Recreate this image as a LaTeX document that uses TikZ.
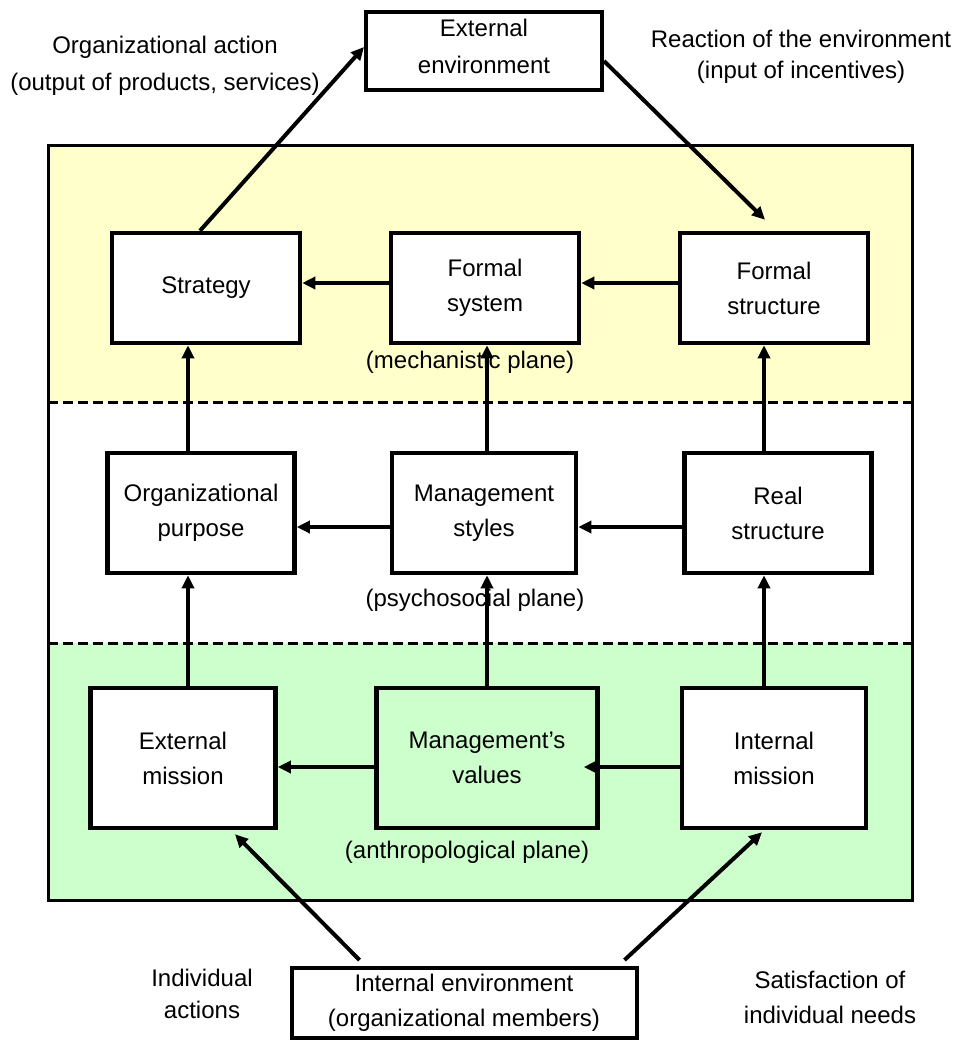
\documentclass[tikz,border=0pt]{standalone}
\usepackage{fontspec}
\setmainfont{Liberation Sans}
\usetikzlibrary{arrows.meta}
\definecolor{mechyellow}{HTML}{FFFFCC}
\definecolor{anthgreen}{HTML}{CCFFCC}
\tikzset{
  box/.style={draw, line width=4.5pt, fill=white, align=center, inner sep=0pt},
  lbl/.style={align=center, inner sep=0pt},
  arr/.style={line width=4pt, -{Triangle[length=13pt,width=12pt]}},
}
\begin{document}
\begin{tikzpicture}[x=1pt, y=-1pt, font=\fontsize{24}{35}\selectfont]
			\useasboundingbox (0,0) rectangle (957,1041);
			% Draw the three planes
			\fill[mechyellow] (48,145) rectangle (912,402);
			\fill[white] (48,402) rectangle (912,643);
			\fill[anthgreen] (48,643) rectangle (912,900);
			\draw[line width=3pt, dash pattern=on 10pt off 5pt] (48,402) -- (912,402);
			\draw[line width=3pt, dash pattern=on 10pt off 5pt] (48,643) -- (912,643);
			\draw[line width=3pt] (48,145) rectangle (912,900);
			\node[lbl] (mplane) at (470,362) {(mechanistic plane)};
			\node[lbl] (pplane) at (475,600) {(psychosocial plane)};
			\node[lbl] (aplane) at (467,852) {(anthropological plane)};
			% Boxes
			\node[box, line width=4pt, minimum width=236pt, minimum height=78pt] (extenv) at (484,51) {};
			\node[lbl, font=\fontsize{24}{37}\selectfont] (extenvtxt) at ([yshift=5pt]extenv.center) {External\\environment};
			\node[box, minimum width=188pt, minimum height=110pt] (strat) at (206,288) {Strategy};
			\node[box, minimum width=188pt, minimum height=110pt] (fsys) at (485,288) {Formal\\system};
			\node[box, minimum width=188pt, minimum height=110pt] (fstr) at (774,288) {Formal\\structure};
			\node[box, minimum width=187pt, minimum height=120pt] (purp) at (201,513) {Organizational\\purpose};
			\node[box, minimum width=184pt, minimum height=120pt] (mstyl) at (484,513) {Management\\styles};
			\node[box, minimum width=187pt, minimum height=120pt] (rstr) at (778,513) {Real\\structure};
			\node[box, minimum width=185pt, minimum height=140pt] (emis) at (183,758) {External\\mission};
			\node[box, fill=anthgreen, minimum width=221pt, minimum height=140pt] (mval) at (487,758) {Management’s\\values};
			\node[box, minimum width=184pt, minimum height=140pt] (imis) at (774,758) {Internal\\mission};
			\node[box, line width=4pt, minimum width=345pt, minimum height=70pt] (intenv) at (464,1003) {Internal environment\\(organizational members)};
			% Labels outside
			\node[lbl, font=\fontsize{24}{37}\selectfont] (orgact) at (165,66) {Organizational action\\(output of products, services)};
			\node[lbl, font=\fontsize{24}{31}\selectfont] (react) at (801,57) {Reaction of the environment\\(input of incentives)};
			\node[lbl, font=\fontsize{24}{32}\selectfont] (indact) at (202,994) {Individual\\actions};
			\node[lbl, font=\fontsize{24}{35}\selectfont] (satis) at (830,997) {Satisfaction of\\individual needs};
			% Vertical columns
			\coordinate (lcol) at (188,0);
			\coordinate (mcol) at (487,0);
			\coordinate (rcol) at (764,0);
			\draw[arr] (emis.north -| lcol) -- (purp.south -| lcol);
			\draw[arr] (mval.north -| mcol) -- (mstyl.south -| mcol);
			\draw[arr] (imis.north -| rcol) -- (rstr.south -| rcol);
			\draw[arr] (purp.north -| lcol) -- (strat.south -| lcol);
			\draw[arr] (mstyl.north -| mcol) -- (fsys.south -| mcol);
			\draw[arr] (rstr.north -| rcol) -- (fstr.south -| rcol);
			% Horizontal arrows
			\draw[arr] ([yshift=5pt]fsys.west) -- ([yshift=5pt]strat.east);
			\draw[arr] ([yshift=5pt]fstr.west) -- ([yshift=5pt]fsys.east);
			\draw[arr] ([yshift=-14pt]mstyl.west) -- ([yshift=-14pt]purp.east);
			\draw[arr] ([yshift=-14pt]rstr.west) -- ([yshift=-14pt]mstyl.east);
			\draw[arr] ([yshift=-9pt]mval.west) -- ([yshift=-9pt]emis.east);
			\draw[arr, shorten >=-16pt] ([yshift=-9pt]imis.west) -- ([yshift=-9pt]mval.east);
			% Environment arrows
			\draw[arr] ([xshift=-6pt]strat.north) -- ([yshift=4pt]extenv.west);
			\draw[arr] ([yshift=-10pt]extenv.east) -- ([xshift=-9pt,yshift=11pt]fstr.north);
			\draw[arr] ([xshift=70pt,yshift=6pt]intenv.north west) -- ([xshift=52pt,yshift=-4pt]emis.south);
			\draw[arr] ([xshift=-14pt,yshift=6pt]intenv.north east) -- ([xshift=-12pt,yshift=-2pt]imis.south);
		\end{tikzpicture}
\end{document}
